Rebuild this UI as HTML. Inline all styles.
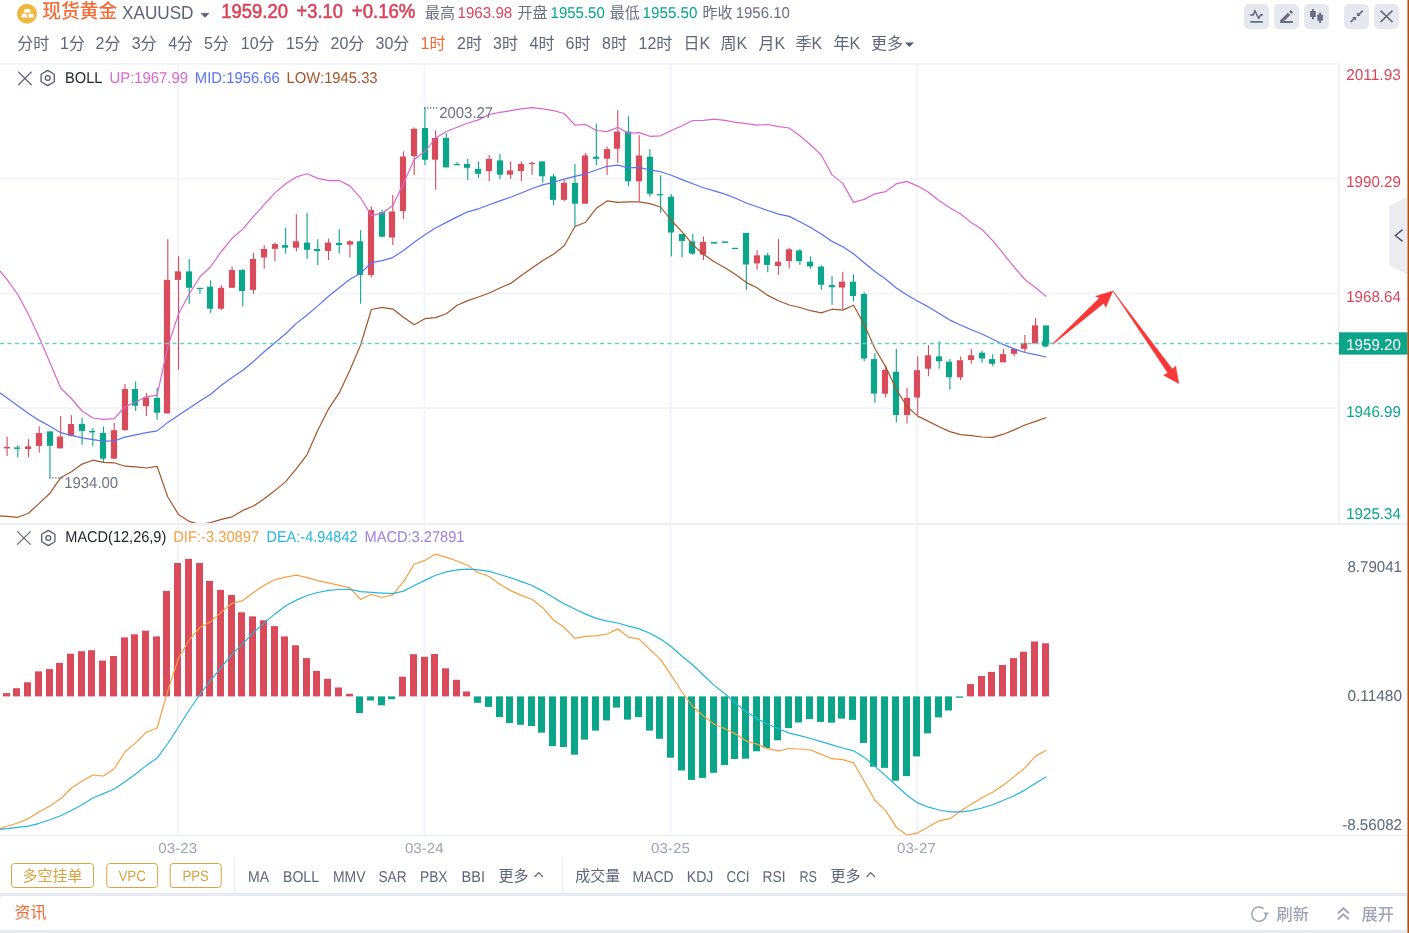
<!DOCTYPE html>
<html lang="zh-CN"><head><meta charset="utf-8"><title>现货黄金 XAUUSD</title>
<style>
html,body{margin:0;padding:0;background:#fff;}
body{width:1409px;height:933px;overflow:hidden;position:relative;font-family:"Liberation Sans", "Noto Sans CJK SC", sans-serif;}
svg{position:absolute;left:0;top:0;display:block;}
svg text{font-family:"Liberation Sans", "Noto Sans CJK SC", sans-serif;}
svg text.gp{text-rendering:geometricPrecision;}
</style></head><body>
<svg width="1409" height="933" viewBox="0 0 1409 933">
<rect x="0" y="0" width="1409" height="933" fill="#ffffff"/>
<rect x="0" y="893" width="1409" height="40" fill="#e6e9f1"/>
<path d="M0 899 Q0 896 3 896 L1404 896 Q1407 896 1407 899 L1407 930 L0 930 Z" fill="#ffffff"/>
<rect x="0" y="63.00" width="1339" height="1.8" fill="#f3f4f9"/>
<rect x="0" y="177.85" width="1339" height="1.8" fill="#f3f4f9"/>
<rect x="0" y="292.55" width="1339" height="1.8" fill="#f3f4f9"/>
<rect x="0" y="407.25" width="1339" height="1.8" fill="#f3f4f9"/>
<rect x="177.15" y="64" width="1.8" height="771" fill="#f3f4f9"/>
<rect x="423.45" y="64" width="1.8" height="771" fill="#f3f4f9"/>
<rect x="669.75" y="64" width="1.8" height="771" fill="#f3f4f9"/>
<rect x="916.05" y="64" width="1.8" height="771" fill="#f3f4f9"/>
<rect x="1338" y="63" width="1.8" height="461" fill="#f0f1f7"/>
<rect x="0" y="523" width="1407.6" height="2" fill="#eef0f6"/>
<rect x="0" y="834.6" width="1407.6" height="1.4" fill="#eef0f6"/>
<clipPath id="cm"><rect x="0" y="65" width="1338" height="458"/></clipPath>
<g clip-path="url(#cm)">
<rect x="6.55" y="436.6" width="1.1" height="19.3" fill="#d94a5b"/>
<rect x="3.9" y="446.9" width="6.2" height="1.5" fill="#d94a5b"/>
<rect x="17.26" y="445.1" width="1.1" height="12.1" fill="#0ba58a"/>
<rect x="13.9" y="447.4" width="6.2" height="1.5" fill="#0ba58a"/>
<rect x="27.98" y="439.2" width="1.1" height="18.0" fill="#d94a5b"/>
<rect x="24.9" y="446.4" width="6.2" height="2.6" fill="#d94a5b"/>
<rect x="38.69" y="426.3" width="1.1" height="26.2" fill="#d94a5b"/>
<rect x="35.9" y="433.0" width="6.2" height="12.9" fill="#d94a5b"/>
<rect x="49.40" y="431.4" width="1.1" height="46.3" fill="#0ba58a"/>
<rect x="46.9" y="431.4" width="6.2" height="14.4" fill="#0ba58a"/>
<rect x="60.12" y="416.0" width="1.1" height="32.4" fill="#d94a5b"/>
<rect x="56.9" y="436.6" width="6.2" height="11.8" fill="#d94a5b"/>
<rect x="70.83" y="415.2" width="1.1" height="21.3" fill="#d94a5b"/>
<rect x="67.9" y="424.0" width="6.2" height="11.8" fill="#d94a5b"/>
<rect x="81.54" y="417.8" width="1.1" height="27.0" fill="#0ba58a"/>
<rect x="78.9" y="424.0" width="6.2" height="6.9" fill="#0ba58a"/>
<rect x="92.26" y="428.1" width="1.1" height="18.0" fill="#0ba58a"/>
<rect x="88.9" y="430.9" width="6.2" height="1.5" fill="#0ba58a"/>
<rect x="102.97" y="426.8" width="1.1" height="35.0" fill="#0ba58a"/>
<rect x="99.9" y="433.0" width="6.2" height="25.7" fill="#0ba58a"/>
<rect x="113.68" y="423.0" width="1.1" height="35.7" fill="#d94a5b"/>
<rect x="110.9" y="430.2" width="6.2" height="28.5" fill="#d94a5b"/>
<rect x="124.40" y="384.1" width="1.1" height="46.8" fill="#d94a5b"/>
<rect x="121.9" y="389.0" width="6.2" height="41.1" fill="#d94a5b"/>
<rect x="135.11" y="381.3" width="1.1" height="29.6" fill="#0ba58a"/>
<rect x="131.9" y="389.0" width="6.2" height="16.7" fill="#0ba58a"/>
<rect x="145.83" y="392.9" width="1.1" height="23.1" fill="#d94a5b"/>
<rect x="142.9" y="397.5" width="6.2" height="8.7" fill="#d94a5b"/>
<rect x="156.54" y="387.7" width="1.1" height="32.1" fill="#0ba58a"/>
<rect x="153.9" y="398.0" width="6.2" height="14.7" fill="#0ba58a"/>
<rect x="167.25" y="239.2" width="1.1" height="174.2" fill="#d94a5b"/>
<rect x="163.9" y="279.9" width="6.2" height="133.5" fill="#d94a5b"/>
<rect x="177.97" y="256.2" width="1.1" height="113.5" fill="#d94a5b"/>
<rect x="174.9" y="271.4" width="6.2" height="8.5" fill="#d94a5b"/>
<rect x="188.68" y="259.0" width="1.1" height="44.8" fill="#0ba58a"/>
<rect x="185.9" y="271.4" width="6.2" height="16.4" fill="#0ba58a"/>
<rect x="199.39" y="287.8" width="1.1" height="6.0" fill="#0ba58a"/>
<rect x="196.9" y="287.8" width="6.2" height="1.2" fill="#0ba58a"/>
<rect x="210.11" y="280.3" width="1.1" height="32.6" fill="#0ba58a"/>
<rect x="206.9" y="286.7" width="6.2" height="22.0" fill="#0ba58a"/>
<rect x="220.82" y="285.2" width="1.1" height="24.9" fill="#d94a5b"/>
<rect x="217.9" y="287.8" width="6.2" height="20.9" fill="#d94a5b"/>
<rect x="231.53" y="266.5" width="1.1" height="21.3" fill="#d94a5b"/>
<rect x="228.9" y="270.1" width="6.2" height="17.7" fill="#d94a5b"/>
<rect x="242.25" y="269.0" width="1.1" height="37.5" fill="#0ba58a"/>
<rect x="238.9" y="270.1" width="6.2" height="20.9" fill="#0ba58a"/>
<rect x="252.96" y="252.6" width="1.1" height="41.2" fill="#d94a5b"/>
<rect x="249.9" y="259.0" width="6.2" height="30.9" fill="#d94a5b"/>
<rect x="263.67" y="245.1" width="1.1" height="23.5" fill="#d94a5b"/>
<rect x="260.9" y="249.0" width="6.2" height="8.5" fill="#d94a5b"/>
<rect x="274.39" y="242.6" width="1.1" height="18.6" fill="#d94a5b"/>
<rect x="271.9" y="244.1" width="6.2" height="4.7" fill="#d94a5b"/>
<rect x="285.10" y="227.7" width="1.1" height="26.0" fill="#0ba58a"/>
<rect x="281.9" y="245.1" width="6.2" height="2.6" fill="#0ba58a"/>
<rect x="295.81" y="214.2" width="1.1" height="37.3" fill="#d94a5b"/>
<rect x="292.9" y="241.3" width="6.2" height="6.4" fill="#d94a5b"/>
<rect x="306.53" y="212.7" width="1.1" height="46.3" fill="#0ba58a"/>
<rect x="303.9" y="242.6" width="6.2" height="7.2" fill="#0ba58a"/>
<rect x="317.24" y="239.2" width="1.1" height="25.8" fill="#0ba58a"/>
<rect x="313.9" y="249.0" width="6.2" height="2.1" fill="#0ba58a"/>
<rect x="327.95" y="238.7" width="1.1" height="21.3" fill="#d94a5b"/>
<rect x="324.9" y="242.6" width="6.2" height="8.3" fill="#d94a5b"/>
<rect x="338.67" y="229.1" width="1.1" height="24.5" fill="#0ba58a"/>
<rect x="335.9" y="243.0" width="6.2" height="2.1" fill="#0ba58a"/>
<rect x="349.38" y="240.2" width="1.1" height="17.3" fill="#d94a5b"/>
<rect x="346.9" y="241.3" width="6.2" height="3.4" fill="#d94a5b"/>
<rect x="360.10" y="230.2" width="1.1" height="73.6" fill="#0ba58a"/>
<rect x="356.9" y="241.3" width="6.2" height="33.7" fill="#0ba58a"/>
<rect x="370.81" y="206.3" width="1.1" height="71.2" fill="#d94a5b"/>
<rect x="367.9" y="210.0" width="6.2" height="65.0" fill="#d94a5b"/>
<rect x="381.52" y="209.4" width="1.1" height="28.1" fill="#0ba58a"/>
<rect x="378.9" y="212.2" width="6.2" height="24.5" fill="#0ba58a"/>
<rect x="392.24" y="195.1" width="1.1" height="49.9" fill="#d94a5b"/>
<rect x="388.9" y="211.5" width="6.2" height="26.0" fill="#d94a5b"/>
<rect x="402.95" y="151.4" width="1.1" height="67.6" fill="#d94a5b"/>
<rect x="399.9" y="156.5" width="6.2" height="54.6" fill="#d94a5b"/>
<rect x="413.66" y="127.3" width="1.1" height="48.0" fill="#d94a5b"/>
<rect x="410.9" y="128.8" width="6.2" height="27.3" fill="#d94a5b"/>
<rect x="424.38" y="107.5" width="1.1" height="57.6" fill="#0ba58a"/>
<rect x="421.9" y="128.0" width="6.2" height="31.8" fill="#0ba58a"/>
<rect x="435.09" y="130.1" width="1.1" height="59.7" fill="#d94a5b"/>
<rect x="431.9" y="138.0" width="6.2" height="21.7" fill="#d94a5b"/>
<rect x="445.80" y="133.3" width="1.1" height="34.1" fill="#0ba58a"/>
<rect x="442.9" y="138.0" width="6.2" height="29.4" fill="#0ba58a"/>
<rect x="456.52" y="161.9" width="1.1" height="3.2" fill="#0ba58a"/>
<rect x="453.9" y="164.0" width="6.2" height="1.2" fill="#0ba58a"/>
<rect x="467.23" y="158.9" width="1.1" height="21.1" fill="#0ba58a"/>
<rect x="463.9" y="164.0" width="6.2" height="3.8" fill="#0ba58a"/>
<rect x="477.94" y="161.4" width="1.1" height="16.4" fill="#0ba58a"/>
<rect x="474.9" y="168.9" width="6.2" height="4.9" fill="#0ba58a"/>
<rect x="488.66" y="155.0" width="1.1" height="26.2" fill="#d94a5b"/>
<rect x="485.9" y="158.9" width="6.2" height="12.2" fill="#d94a5b"/>
<rect x="499.37" y="154.0" width="1.1" height="24.9" fill="#0ba58a"/>
<rect x="496.9" y="160.4" width="6.2" height="14.3" fill="#0ba58a"/>
<rect x="510.08" y="161.4" width="1.1" height="17.5" fill="#d94a5b"/>
<rect x="506.9" y="170.4" width="6.2" height="4.3" fill="#d94a5b"/>
<rect x="520.80" y="161.4" width="1.1" height="19.8" fill="#d94a5b"/>
<rect x="517.9" y="164.0" width="6.2" height="7.0" fill="#d94a5b"/>
<rect x="531.51" y="161.4" width="1.1" height="13.4" fill="#d94a5b"/>
<rect x="528.9" y="162.9" width="6.2" height="1.2" fill="#d94a5b"/>
<rect x="542.23" y="161.4" width="1.1" height="21.3" fill="#0ba58a"/>
<rect x="538.9" y="161.4" width="6.2" height="14.9" fill="#0ba58a"/>
<rect x="552.94" y="173.8" width="1.1" height="31.3" fill="#0ba58a"/>
<rect x="549.9" y="176.4" width="6.2" height="23.5" fill="#0ba58a"/>
<rect x="563.65" y="180.0" width="1.1" height="21.3" fill="#d94a5b"/>
<rect x="560.9" y="182.8" width="6.2" height="17.1" fill="#d94a5b"/>
<rect x="574.37" y="164.0" width="1.1" height="62.5" fill="#0ba58a"/>
<rect x="571.9" y="182.8" width="6.2" height="20.9" fill="#0ba58a"/>
<rect x="585.08" y="152.9" width="1.1" height="50.7" fill="#d94a5b"/>
<rect x="581.9" y="155.5" width="6.2" height="48.2" fill="#d94a5b"/>
<rect x="595.79" y="123.7" width="1.1" height="41.4" fill="#0ba58a"/>
<rect x="592.9" y="156.7" width="6.2" height="2.1" fill="#0ba58a"/>
<rect x="606.51" y="146.5" width="1.1" height="28.4" fill="#d94a5b"/>
<rect x="603.9" y="149.1" width="6.2" height="9.6" fill="#d94a5b"/>
<rect x="617.22" y="109.8" width="1.1" height="53.1" fill="#d94a5b"/>
<rect x="613.9" y="131.6" width="6.2" height="17.1" fill="#d94a5b"/>
<rect x="627.93" y="116.2" width="1.1" height="70.1" fill="#0ba58a"/>
<rect x="624.9" y="131.6" width="6.2" height="49.7" fill="#0ba58a"/>
<rect x="638.65" y="135.2" width="1.1" height="66.1" fill="#d94a5b"/>
<rect x="635.9" y="155.5" width="6.2" height="25.8" fill="#d94a5b"/>
<rect x="649.36" y="149.1" width="1.1" height="47.5" fill="#0ba58a"/>
<rect x="646.9" y="156.7" width="6.2" height="37.1" fill="#0ba58a"/>
<rect x="660.07" y="175.3" width="1.1" height="37.3" fill="#0ba58a"/>
<rect x="656.9" y="194.1" width="6.2" height="1.2" fill="#0ba58a"/>
<rect x="670.79" y="194.1" width="1.1" height="62.3" fill="#0ba58a"/>
<rect x="667.9" y="196.7" width="6.2" height="35.8" fill="#0ba58a"/>
<rect x="681.50" y="234.0" width="1.1" height="23.5" fill="#0ba58a"/>
<rect x="678.9" y="234.0" width="6.2" height="7.0" fill="#0ba58a"/>
<rect x="692.21" y="234.0" width="1.1" height="20.9" fill="#0ba58a"/>
<rect x="688.9" y="241.4" width="6.2" height="12.2" fill="#0ba58a"/>
<rect x="702.93" y="236.5" width="1.1" height="23.5" fill="#d94a5b"/>
<rect x="699.9" y="241.9" width="6.2" height="12.8" fill="#d94a5b"/>
<rect x="710.9" y="241.9" width="6.2" height="1.7" fill="#0ba58a"/>
<rect x="721.9" y="241.4" width="6.2" height="1.5" fill="#0ba58a"/>
<rect x="731.9" y="247.8" width="6.2" height="1.2" fill="#0ba58a"/>
<rect x="745.78" y="232.9" width="1.1" height="56.9" fill="#0ba58a"/>
<rect x="742.9" y="232.9" width="6.2" height="31.6" fill="#0ba58a"/>
<rect x="756.50" y="250.4" width="1.1" height="19.4" fill="#d94a5b"/>
<rect x="753.9" y="255.3" width="6.2" height="8.1" fill="#d94a5b"/>
<rect x="767.21" y="252.7" width="1.1" height="19.6" fill="#0ba58a"/>
<rect x="763.9" y="255.3" width="6.2" height="9.6" fill="#0ba58a"/>
<rect x="777.92" y="238.9" width="1.1" height="36.0" fill="#d94a5b"/>
<rect x="774.9" y="261.7" width="6.2" height="4.3" fill="#d94a5b"/>
<rect x="788.64" y="247.8" width="1.1" height="20.7" fill="#d94a5b"/>
<rect x="785.9" y="249.3" width="6.2" height="11.7" fill="#d94a5b"/>
<rect x="799.35" y="248.9" width="1.1" height="16.0" fill="#0ba58a"/>
<rect x="795.9" y="250.4" width="6.2" height="10.7" fill="#0ba58a"/>
<rect x="810.06" y="256.4" width="1.1" height="12.4" fill="#0ba58a"/>
<rect x="806.9" y="261.7" width="6.2" height="4.7" fill="#0ba58a"/>
<rect x="820.78" y="265.3" width="1.1" height="24.5" fill="#0ba58a"/>
<rect x="817.9" y="266.6" width="6.2" height="18.1" fill="#0ba58a"/>
<rect x="831.49" y="276.2" width="1.1" height="28.8" fill="#0ba58a"/>
<rect x="828.9" y="285.1" width="6.2" height="2.1" fill="#0ba58a"/>
<rect x="842.20" y="271.7" width="1.1" height="37.7" fill="#d94a5b"/>
<rect x="838.9" y="281.7" width="6.2" height="5.8" fill="#d94a5b"/>
<rect x="852.92" y="274.3" width="1.1" height="27.1" fill="#0ba58a"/>
<rect x="849.9" y="281.7" width="6.2" height="14.3" fill="#0ba58a"/>
<rect x="863.63" y="292.4" width="1.1" height="68.9" fill="#0ba58a"/>
<rect x="860.9" y="293.9" width="6.2" height="64.6" fill="#0ba58a"/>
<rect x="874.34" y="353.2" width="1.1" height="49.5" fill="#0ba58a"/>
<rect x="870.9" y="359.1" width="6.2" height="34.5" fill="#0ba58a"/>
<rect x="885.06" y="365.3" width="1.1" height="32.2" fill="#d94a5b"/>
<rect x="881.9" y="369.8" width="6.2" height="23.9" fill="#d94a5b"/>
<rect x="895.77" y="348.9" width="1.1" height="73.6" fill="#0ba58a"/>
<rect x="892.9" y="371.7" width="6.2" height="43.3" fill="#0ba58a"/>
<rect x="906.48" y="387.7" width="1.1" height="35.8" fill="#d94a5b"/>
<rect x="903.9" y="397.9" width="6.2" height="17.1" fill="#d94a5b"/>
<rect x="917.20" y="356.4" width="1.1" height="58.6" fill="#d94a5b"/>
<rect x="913.9" y="370.2" width="6.2" height="27.3" fill="#d94a5b"/>
<rect x="927.91" y="345.1" width="1.1" height="31.1" fill="#d94a5b"/>
<rect x="924.9" y="355.3" width="6.2" height="13.4" fill="#d94a5b"/>
<rect x="938.62" y="341.4" width="1.1" height="27.3" fill="#0ba58a"/>
<rect x="935.9" y="356.4" width="6.2" height="4.9" fill="#0ba58a"/>
<rect x="949.34" y="359.1" width="1.1" height="30.7" fill="#0ba58a"/>
<rect x="945.9" y="361.7" width="6.2" height="15.6" fill="#0ba58a"/>
<rect x="960.05" y="356.4" width="1.1" height="23.9" fill="#d94a5b"/>
<rect x="956.9" y="360.2" width="6.2" height="17.1" fill="#d94a5b"/>
<rect x="970.77" y="348.9" width="1.1" height="14.9" fill="#d94a5b"/>
<rect x="967.9" y="355.3" width="6.2" height="4.7" fill="#d94a5b"/>
<rect x="981.48" y="351.0" width="1.1" height="11.7" fill="#0ba58a"/>
<rect x="978.9" y="352.7" width="6.2" height="5.8" fill="#0ba58a"/>
<rect x="992.19" y="354.2" width="1.1" height="12.2" fill="#0ba58a"/>
<rect x="988.9" y="359.1" width="6.2" height="4.7" fill="#0ba58a"/>
<rect x="1002.91" y="348.9" width="1.1" height="13.4" fill="#d94a5b"/>
<rect x="999.9" y="354.2" width="6.2" height="8.1" fill="#d94a5b"/>
<rect x="1013.62" y="348.9" width="1.1" height="7.5" fill="#d94a5b"/>
<rect x="1010.9" y="348.9" width="6.2" height="4.9" fill="#d94a5b"/>
<rect x="1024.33" y="335.0" width="1.1" height="17.1" fill="#d94a5b"/>
<rect x="1020.9" y="343.1" width="6.2" height="5.8" fill="#d94a5b"/>
<rect x="1035.05" y="318.0" width="1.1" height="25.6" fill="#d94a5b"/>
<rect x="1031.9" y="325.4" width="6.2" height="18.1" fill="#d94a5b"/>
<rect x="1042.9" y="325.4" width="6.2" height="18.1" fill="#0ba58a"/>
<polyline points="0,271.0 7.1,279.6 17.8,294.5 28.5,314.5 39.2,337.5 50.0,362.7 60.7,388.0 71.4,398.5 82.1,411.0 92.8,418.0 103.5,419.4 114.2,418.6 124.9,407.0 135.7,402.0 146.4,396.7 157.1,395.4 167.8,346.6 178.5,314.0 189.2,294.0 199.9,277.0 210.7,266.5 221.4,251.5 232.1,238.3 242.8,229.1 253.5,216.4 264.2,204.6 274.9,192.9 285.7,183.7 296.4,176.9 307.1,173.7 317.8,178.4 328.5,180.7 339.2,180.5 349.9,185.9 360.6,197.8 371.4,215.7 382.1,213.2 392.8,205.5 403.5,183.5 414.2,159.6 424.9,151.5 435.6,138.0 446.4,131.5 457.1,127.3 467.8,123.0 478.5,119.9 489.2,114.5 499.9,112.4 510.6,110.7 521.3,108.8 532.1,107.7 542.8,108.8 553.5,110.7 564.2,113.5 574.9,125.2 585.6,124.5 596.3,130.5 607.1,131.6 617.8,127.3 628.5,133.3 639.2,132.6 649.9,136.3 660.6,135.8 671.3,130.5 682.1,125.8 692.8,120.5 703.5,120.3 714.2,119.2 724.9,120.3 735.6,122.4 746.3,123.7 757.0,125.2 767.8,124.5 778.5,126.7 789.2,128.0 799.9,135.8 810.6,145.0 821.3,155.0 832.0,174.9 842.8,183.4 853.5,202.4 864.2,199.4 874.9,193.8 885.6,191.7 896.3,183.8 907.0,181.4 917.7,186.1 928.5,192.2 939.2,200.8 949.9,207.7 960.6,214.0 971.3,222.6 982.0,229.4 992.7,240.6 1003.5,253.9 1014.2,267.1 1024.9,279.5 1035.6,287.7 1046.3,296.6" fill="none" stroke="#db66cd" stroke-width="1.2" stroke-linejoin="round"/>
<polyline points="0,392.9 7.1,398.0 17.8,405.7 28.5,413.4 39.2,420.4 50.0,426.3 60.7,432.7 71.4,435.3 82.1,437.9 92.8,439.7 103.5,441.2 114.2,441.0 124.9,437.1 135.7,434.8 146.4,432.7 157.1,430.9 167.8,422.4 178.5,415.2 189.2,408.3 199.9,401.1 210.7,394.2 221.4,385.2 232.1,377.4 242.8,370.2 253.5,361.5 264.2,351.7 274.9,342.7 285.7,333.7 296.4,323.4 307.1,315.0 317.8,305.9 328.5,296.3 339.2,287.8 349.9,279.3 360.6,273.3 371.4,262.6 382.1,260.7 392.8,257.6 403.5,250.4 414.2,242.2 424.9,234.8 435.6,228.0 446.4,222.4 457.1,216.9 467.8,211.8 478.5,208.8 489.2,204.7 499.9,200.9 510.6,197.2 521.3,193.0 532.1,188.5 542.8,184.9 553.5,182.3 564.2,179.1 574.9,176.4 585.6,173.8 596.3,170.0 607.1,166.3 617.8,165.1 628.5,167.8 639.2,167.4 649.9,170.0 660.6,171.7 671.3,175.3 682.1,179.6 692.8,183.8 703.5,187.7 714.2,190.9 724.9,194.1 735.6,198.3 746.3,203.0 757.0,206.8 767.8,210.5 778.5,214.1 789.2,216.4 799.9,221.8 810.6,227.5 821.3,233.9 832.0,241.4 842.8,246.7 853.5,253.8 864.2,262.7 874.9,271.5 885.6,279.0 896.3,288.0 907.0,295.0 917.7,301.2 928.5,306.9 939.2,313.4 949.9,320.1 960.6,325.0 971.3,329.7 982.0,334.0 992.7,339.3 1003.5,344.6 1014.2,348.9 1024.9,352.5 1035.6,354.6 1046.3,357.0" fill="none" stroke="#5873f5" stroke-width="1.2" stroke-linejoin="round"/>
<polyline points="0,515.8 7.1,516.3 17.8,517.3 28.5,513.2 39.2,503.4 50.0,493.2 60.7,477.7 71.4,471.8 82.1,464.1 92.8,460.2 103.5,462.3 114.2,462.8 124.9,466.2 135.7,466.9 146.4,468.0 157.1,466.4 167.8,497.0 178.5,514.5 189.2,521.4 199.9,524.5 210.7,522.5 221.4,519.4 232.1,516.8 242.8,510.4 253.5,506.0 264.2,498.8 274.9,490.6 285.7,481.6 296.4,468.7 307.1,454.6 317.8,430.2 328.5,409.1 339.2,392.9 349.9,370.2 360.6,345.0 371.4,309.5 382.1,307.4 392.8,309.1 403.5,317.2 414.2,324.7 424.9,318.7 435.6,317.6 446.4,313.8 457.1,305.3 467.8,300.6 478.5,297.0 489.2,293.0 499.9,288.0 510.6,283.4 521.3,275.5 532.1,268.0 542.8,260.6 553.5,254.2 564.2,245.7 574.9,226.5 585.6,222.2 596.3,208.3 607.1,200.9 617.8,202.4 628.5,201.9 639.2,201.9 649.9,203.6 660.6,207.0 671.3,220.5 682.1,231.8 692.8,244.6 703.5,254.2 714.2,261.7 724.9,267.7 735.6,274.5 746.3,282.6 757.0,287.7 767.8,295.4 778.5,300.7 789.2,305.0 799.9,307.5 810.6,310.7 821.3,312.9 832.0,309.2 842.8,310.1 853.5,305.3 864.2,324.5 874.9,348.5 885.6,366.6 896.3,389.4 907.0,406.5 917.7,416.1 928.5,421.4 939.2,426.7 949.9,431.6 960.6,434.6 971.3,435.7 982.0,437.0 992.7,437.4 1003.5,434.2 1014.2,429.9 1024.9,425.0 1035.6,421.4 1046.3,417.5" fill="none" stroke="#a2572b" stroke-width="1.2" stroke-linejoin="round"/>
</g>
<line x1="0" y1="343.5" x2="1339" y2="343.5" stroke="#6ccdba" stroke-width="1.3" stroke-dasharray="4 3.5"/>
<circle cx="1045.3" cy="343.4" r="4.3" fill="#0ba58a" opacity="0.35"/>
<circle cx="1045.3" cy="343.4" r="3.3" fill="#0ba58a"/>
<polygon points="1053,343.3 1099.4,297.9 1095.5,296.2 1112.9,290.9 1105.9,307.3 1103.6,303.4 1053.6,343.8" fill="#f83838" stroke="#f83838" stroke-width="0.4" stroke-linejoin="round"/>
<polygon points="1112.9,290.9 1172.4,369.2 1175.6,366.1 1178.8,383.5 1163.7,375.2 1167.9,373.1" fill="#f83838" stroke="#f83838" stroke-width="0.6" stroke-linejoin="round"/>
<line x1="424" y1="107.8" x2="438" y2="107.8" stroke="#555b6e" stroke-width="1.3" stroke-dasharray="1.3 1.7"/>
<text x="439.2" y="118.0" font-size="15.7" fill="#6d7387" textLength="54" lengthAdjust="spacingAndGlyphs" class="gp">2003.27</text>
<line x1="49.2" y1="477.8" x2="63" y2="477.8" stroke="#555b6e" stroke-width="1.3" stroke-dasharray="1.3 1.7"/>
<text x="64.2" y="488.0" font-size="15.7" fill="#6d7387" textLength="54" lengthAdjust="spacingAndGlyphs" class="gp">1934.00</text>
<rect x="3" y="693.1" width="7" height="3.3" fill="#d94a5b"/>
<rect x="13" y="688.2" width="7" height="8.2" fill="#d94a5b"/>
<rect x="24" y="682.3" width="7" height="14.1" fill="#d94a5b"/>
<rect x="35" y="671.4" width="7" height="25.0" fill="#d94a5b"/>
<rect x="46" y="669.1" width="7" height="27.3" fill="#d94a5b"/>
<rect x="56" y="662.9" width="7" height="33.5" fill="#d94a5b"/>
<rect x="67" y="653.7" width="7" height="42.7" fill="#d94a5b"/>
<rect x="78" y="651.2" width="7" height="45.2" fill="#d94a5b"/>
<rect x="88" y="650.2" width="7" height="46.2" fill="#d94a5b"/>
<rect x="99" y="660.6" width="7" height="35.8" fill="#d94a5b"/>
<rect x="110" y="656.0" width="7" height="40.4" fill="#d94a5b"/>
<rect x="121" y="637.4" width="7" height="59.0" fill="#d94a5b"/>
<rect x="131" y="634.3" width="7" height="62.1" fill="#d94a5b"/>
<rect x="142" y="630.7" width="7" height="65.7" fill="#d94a5b"/>
<rect x="153" y="636.4" width="7" height="60.0" fill="#d94a5b"/>
<rect x="163" y="590.9" width="7" height="105.5" fill="#d94a5b"/>
<rect x="174" y="563.0" width="7" height="133.4" fill="#d94a5b"/>
<rect x="185" y="558.9" width="7" height="137.5" fill="#d94a5b"/>
<rect x="196" y="563.0" width="7" height="133.4" fill="#d94a5b"/>
<rect x="206" y="580.9" width="7" height="115.5" fill="#d94a5b"/>
<rect x="217" y="589.9" width="7" height="106.5" fill="#d94a5b"/>
<rect x="228" y="595.0" width="7" height="101.4" fill="#d94a5b"/>
<rect x="238" y="612.3" width="7" height="84.1" fill="#d94a5b"/>
<rect x="249" y="616.4" width="7" height="80.0" fill="#d94a5b"/>
<rect x="260" y="620.3" width="7" height="76.1" fill="#d94a5b"/>
<rect x="271" y="626.1" width="7" height="70.3" fill="#d94a5b"/>
<rect x="281" y="636.4" width="7" height="60.0" fill="#d94a5b"/>
<rect x="292" y="645.3" width="7" height="51.1" fill="#d94a5b"/>
<rect x="303" y="658.1" width="7" height="38.3" fill="#d94a5b"/>
<rect x="313" y="670.9" width="7" height="25.5" fill="#d94a5b"/>
<rect x="324" y="678.8" width="7" height="17.6" fill="#d94a5b"/>
<rect x="335" y="687.5" width="7" height="8.9" fill="#d94a5b"/>
<rect x="346" y="693.8" width="7" height="2.6" fill="#d94a5b"/>
<rect x="356" y="696.4" width="7" height="16.6" fill="#0ba58a"/>
<rect x="367" y="696.4" width="7" height="4.1" fill="#0ba58a"/>
<rect x="378" y="696.4" width="7" height="8.9" fill="#0ba58a"/>
<rect x="388" y="696.4" width="7" height="2.8" fill="#0ba58a"/>
<rect x="399" y="676.7" width="7" height="19.7" fill="#d94a5b"/>
<rect x="410" y="654.2" width="7" height="42.2" fill="#d94a5b"/>
<rect x="421" y="656.8" width="7" height="39.6" fill="#d94a5b"/>
<rect x="431" y="654.0" width="7" height="42.4" fill="#d94a5b"/>
<rect x="442" y="668.3" width="7" height="28.1" fill="#d94a5b"/>
<rect x="453" y="679.8" width="7" height="16.6" fill="#d94a5b"/>
<rect x="463" y="691.5" width="7" height="4.9" fill="#d94a5b"/>
<rect x="474" y="696.4" width="7" height="6.4" fill="#0ba58a"/>
<rect x="485" y="696.4" width="7" height="10.5" fill="#0ba58a"/>
<rect x="496" y="696.4" width="7" height="20.7" fill="#0ba58a"/>
<rect x="506" y="696.4" width="7" height="26.6" fill="#0ba58a"/>
<rect x="517" y="696.4" width="7" height="28.4" fill="#0ba58a"/>
<rect x="528" y="696.4" width="7" height="29.6" fill="#0ba58a"/>
<rect x="538" y="696.4" width="7" height="36.3" fill="#0ba58a"/>
<rect x="549" y="696.4" width="7" height="49.8" fill="#0ba58a"/>
<rect x="560" y="696.4" width="7" height="50.6" fill="#0ba58a"/>
<rect x="571" y="696.4" width="7" height="58.3" fill="#0ba58a"/>
<rect x="581" y="696.4" width="7" height="43.2" fill="#0ba58a"/>
<rect x="592" y="696.4" width="7" height="34.2" fill="#0ba58a"/>
<rect x="603" y="696.4" width="7" height="24.0" fill="#0ba58a"/>
<rect x="613" y="696.4" width="7" height="11.2" fill="#0ba58a"/>
<rect x="624" y="696.4" width="7" height="23.2" fill="#0ba58a"/>
<rect x="635" y="696.4" width="7" height="20.7" fill="#0ba58a"/>
<rect x="646" y="696.4" width="7" height="34.2" fill="#0ba58a"/>
<rect x="656" y="696.4" width="7" height="42.4" fill="#0ba58a"/>
<rect x="667" y="696.4" width="7" height="61.3" fill="#0ba58a"/>
<rect x="678" y="696.4" width="7" height="74.1" fill="#0ba58a"/>
<rect x="688" y="696.4" width="7" height="83.5" fill="#0ba58a"/>
<rect x="699" y="696.4" width="7" height="81.5" fill="#0ba58a"/>
<rect x="710" y="696.4" width="7" height="76.4" fill="#0ba58a"/>
<rect x="721" y="696.4" width="7" height="68.7" fill="#0ba58a"/>
<rect x="731" y="696.4" width="7" height="62.6" fill="#0ba58a"/>
<rect x="742" y="696.4" width="7" height="62.3" fill="#0ba58a"/>
<rect x="753" y="696.4" width="7" height="54.9" fill="#0ba58a"/>
<rect x="763" y="696.4" width="7" height="51.6" fill="#0ba58a"/>
<rect x="774" y="696.4" width="7" height="43.9" fill="#0ba58a"/>
<rect x="785" y="696.4" width="7" height="31.7" fill="#0ba58a"/>
<rect x="795" y="696.4" width="7" height="26.1" fill="#0ba58a"/>
<rect x="806" y="696.4" width="7" height="22.7" fill="#0ba58a"/>
<rect x="817" y="696.4" width="7" height="25.5" fill="#0ba58a"/>
<rect x="828" y="696.4" width="7" height="26.3" fill="#0ba58a"/>
<rect x="838" y="696.4" width="7" height="22.2" fill="#0ba58a"/>
<rect x="849" y="696.4" width="7" height="23.5" fill="#0ba58a"/>
<rect x="860" y="696.4" width="7" height="46.5" fill="#0ba58a"/>
<rect x="870" y="696.4" width="7" height="70.3" fill="#0ba58a"/>
<rect x="881" y="696.4" width="7" height="71.5" fill="#0ba58a"/>
<rect x="892" y="696.4" width="7" height="84.3" fill="#0ba58a"/>
<rect x="903" y="696.4" width="7" height="79.7" fill="#0ba58a"/>
<rect x="913" y="696.4" width="7" height="60.0" fill="#0ba58a"/>
<rect x="924" y="696.4" width="7" height="37.0" fill="#0ba58a"/>
<rect x="935" y="696.4" width="7" height="21.0" fill="#0ba58a"/>
<rect x="945" y="696.4" width="7" height="14.1" fill="#0ba58a"/>
<rect x="956" y="696.4" width="7" height="1.3" fill="#0ba58a"/>
<rect x="967" y="684.1" width="7" height="12.3" fill="#d94a5b"/>
<rect x="978" y="676.0" width="7" height="20.4" fill="#d94a5b"/>
<rect x="988" y="671.9" width="7" height="24.5" fill="#d94a5b"/>
<rect x="999" y="665.0" width="7" height="31.4" fill="#d94a5b"/>
<rect x="1010" y="658.1" width="7" height="38.3" fill="#d94a5b"/>
<rect x="1020" y="651.7" width="7" height="44.7" fill="#d94a5b"/>
<rect x="1031" y="641.5" width="7" height="54.9" fill="#d94a5b"/>
<rect x="1042" y="643.3" width="7" height="53.1" fill="#d94a5b"/>
<clipPath id="cd"><rect x="0" y="525" width="1338" height="310.5"/></clipPath>
<g clip-path="url(#cd)">
<polyline points="0,828.7 7.1,826.2 17.8,823.0 28.5,818.6 39.2,811.7 50.0,806.0 60.7,798.6 71.4,788.0 82.1,781.3 92.8,775.0 103.5,776.0 114.2,768.7 124.9,752.0 135.7,742.9 146.4,732.2 157.1,728.0 167.8,690.9 178.5,658.1 189.2,640.2 199.9,627.5 210.7,621.6 221.4,612.1 232.1,603.2 242.8,600.6 253.5,592.5 264.2,585.3 274.9,579.7 285.7,577.1 296.4,575.1 307.1,577.7 317.8,580.7 328.5,582.8 339.2,585.4 349.9,587.8 360.6,599.5 371.4,594.2 382.1,597.5 392.8,594.9 403.5,581.6 414.2,564.3 424.9,560.4 435.6,554.1 446.4,557.4 457.1,561.0 467.8,565.5 478.5,572.7 489.2,576.5 499.9,584.2 510.6,590.6 521.3,595.4 532.1,599.5 542.8,607.7 553.5,620.0 564.2,627.4 574.9,638.4 585.6,636.3 596.3,635.8 607.1,634.0 617.8,628.9 628.5,637.1 639.2,639.1 649.9,649.4 660.6,659.6 671.3,675.4 682.1,692.0 692.8,706.5 703.5,716.0 714.2,724.2 724.9,728.8 735.6,733.9 746.3,741.1 757.0,744.1 767.8,748.7 778.5,750.8 789.2,748.5 799.9,749.0 810.6,750.0 821.3,754.4 832.0,758.7 842.8,759.7 853.5,762.8 864.2,781.2 874.9,800.3 885.6,810.6 896.3,827.2 907.0,835.3 917.7,832.8 928.5,826.7 939.2,820.8 949.9,818.7 960.6,811.1 971.3,804.2 982.0,797.8 992.7,792.2 1003.5,785.0 1014.2,776.6 1024.9,767.9 1035.6,756.1 1046.3,750.3" fill="none" stroke="#f7a043" stroke-width="1.2" stroke-linejoin="round"/>
<polyline points="0,829.3 7.1,828.7 17.8,827.4 28.5,826.2 39.2,823.3 50.0,819.7 60.7,815.7 71.4,810.5 82.1,804.7 92.8,798.0 103.5,793.6 114.2,789.0 124.9,781.7 135.7,774.0 146.4,765.4 157.1,758.1 167.8,743.5 178.5,727.0 189.2,710.0 199.9,694.5 210.7,680.4 221.4,667.1 232.1,654.3 242.8,643.6 253.5,632.6 264.2,623.1 274.9,613.9 285.7,605.8 296.4,600.1 307.1,595.5 317.8,592.5 328.5,590.4 339.2,589.5 349.9,589.3 360.6,591.6 371.4,592.4 382.1,593.1 392.8,593.7 403.5,591.1 414.2,585.5 424.9,580.4 435.6,575.3 446.4,571.9 457.1,569.9 467.8,569.1 478.5,569.9 489.2,571.4 499.9,574.5 510.6,577.8 521.3,581.6 532.1,585.5 542.8,591.1 553.5,597.5 564.2,603.9 574.9,609.0 585.6,614.1 596.3,618.4 607.1,621.2 617.8,623.0 628.5,626.1 639.2,628.9 649.9,633.3 660.6,639.1 671.3,646.8 682.1,656.3 692.8,665.0 703.5,675.2 714.2,685.4 724.9,693.8 735.6,703.3 746.3,711.7 757.0,718.6 767.8,724.2 778.5,728.8 789.2,733.1 799.9,735.7 810.6,738.5 821.3,741.6 832.0,744.9 842.8,748.0 853.5,750.8 864.2,757.4 874.9,766.4 885.6,775.6 896.3,785.5 907.0,795.2 917.7,802.9 928.5,807.2 939.2,810.0 949.9,811.8 960.6,811.8 971.3,810.6 982.0,808.0 992.7,804.7 1003.5,800.3 1014.2,795.7 1024.9,790.1 1035.6,783.2 1046.3,776.8" fill="none" stroke="#27b6db" stroke-width="1.2" stroke-linejoin="round"/>
</g>
<text x="1346.2" y="80.0" font-size="15.7" fill="#d9455a" textLength="54.6" lengthAdjust="spacingAndGlyphs" class="gp">2011.93</text>
<text x="1346.2" y="187.0" font-size="15.7" fill="#d9455a" textLength="54.6" lengthAdjust="spacingAndGlyphs" class="gp">1990.29</text>
<text x="1346.2" y="302.0" font-size="15.7" fill="#d9455a" textLength="54.6" lengthAdjust="spacingAndGlyphs" class="gp">1968.64</text>
<text x="1346.2" y="417.0" font-size="15.7" fill="#0ba58a" textLength="54.6" lengthAdjust="spacingAndGlyphs" class="gp">1946.99</text>
<text x="1346.2" y="519.0" font-size="15.7" fill="#0ba58a" textLength="54.6" lengthAdjust="spacingAndGlyphs" class="gp">1925.34</text>
<rect x="1339" y="332.3" width="68.6" height="22.3" fill="#0ba58a"/>
<text x="1346.2" y="350.0" font-size="15.7" fill="#ffffff" textLength="54.6" lengthAdjust="spacingAndGlyphs" class="gp">1959.20</text>
<text x="1347.4" y="572.0" font-size="15.7" fill="#5f667b" textLength="54.6" lengthAdjust="spacingAndGlyphs" class="gp">8.79041</text>
<text x="1347.4" y="701.0" font-size="15.7" fill="#5f667b" textLength="54.6" lengthAdjust="spacingAndGlyphs" class="gp">0.11480</text>
<text x="1342.2" y="830.0" font-size="15.7" fill="#5f667b" textLength="59.8" lengthAdjust="spacingAndGlyphs" class="gp">-8.56082</text>
<text x="158.3" y="853.0" font-size="14.4" fill="#9fa4b6" textLength="38.8" lengthAdjust="spacingAndGlyphs" class="gp">03-23</text>
<text x="404.9" y="853.0" font-size="14.4" fill="#9fa4b6" textLength="38.8" lengthAdjust="spacingAndGlyphs" class="gp">03-24</text>
<text x="651.1" y="853.0" font-size="14.4" fill="#9fa4b6" textLength="38.8" lengthAdjust="spacingAndGlyphs" class="gp">03-25</text>
<text x="897.1" y="853.0" font-size="14.4" fill="#9fa4b6" textLength="38.8" lengthAdjust="spacingAndGlyphs" class="gp">03-27</text>
<path d="M18.2 71.8 l13.4 13.2 M31.6 71.8 l-13.4 13.2" stroke="#646a7e" stroke-width="1.3" fill="none"/>
<polygon points="47.7,70.4 54.3,74.2 54.3,81.8 47.7,85.6 41.1,81.8 41.1,74.2" fill="none" stroke="#555b6e" stroke-width="1.3" stroke-linejoin="round"/>
<circle cx="47.7" cy="78" r="2.4" fill="none" stroke="#555b6e" stroke-width="1.3"/>
<text x="65.0" y="83.0" font-size="15.7" fill="#23262f" textLength="37.5" lengthAdjust="spacingAndGlyphs" class="gp">BOLL</text>
<text x="109.5" y="83.0" font-size="15.7" fill="#db66cd" textLength="78.5" lengthAdjust="spacingAndGlyphs" class="gp">UP:1967.99</text>
<text x="194.8" y="83.0" font-size="15.7" fill="#5873f5" textLength="85" lengthAdjust="spacingAndGlyphs" class="gp">MID:1956.66</text>
<text x="286.6" y="83.0" font-size="15.7" fill="#a2572b" textLength="91" lengthAdjust="spacingAndGlyphs" class="gp">LOW:1945.33</text>
<path d="M17.2 531.4 l13.4 13.2 M30.6 531.4 l-13.4 13.2" stroke="#646a7e" stroke-width="1.3" fill="none"/>
<polygon points="48.3,530.4 54.9,534.2 54.9,541.8 48.3,545.6 41.7,541.8 41.7,534.2" fill="none" stroke="#555b6e" stroke-width="1.3" stroke-linejoin="round"/>
<circle cx="48.3" cy="538" r="2.4" fill="none" stroke="#555b6e" stroke-width="1.3"/>
<text x="65.3" y="542.0" font-size="15.7" fill="#23262f" textLength="101" lengthAdjust="spacingAndGlyphs" class="gp">MACD(12,26,9)</text>
<text x="173.2" y="542.0" font-size="15.7" fill="#f7a043" textLength="86" lengthAdjust="spacingAndGlyphs" class="gp">DIF:-3.30897</text>
<text x="266.5" y="542.0" font-size="15.7" fill="#27b6db" textLength="91" lengthAdjust="spacingAndGlyphs" class="gp">DEA:-4.94842</text>
<text x="364.5" y="542.0" font-size="15.7" fill="#9b7fe0" textLength="100" lengthAdjust="spacingAndGlyphs" class="gp">MACD:3.27891</text>
<circle cx="27" cy="13.7" r="10" fill="#f0b840"/>
<path d="M24.6 9.2 h5.4 l0.9 3.3 h-7.2 z M22 13.8 h4.4 l0.8 3.7 h-6 z M28.6 13.8 h4.4 l0.8 3.7 h-6 z" fill="#ffffff"/>
<text x="42.2" y="18.2" font-size="18.8" fill="#f46b36" font-weight="500">现货黄金</text>
<text x="122.0" y="18.6" font-size="18" fill="#5d6478" textLength="71.5" lengthAdjust="spacingAndGlyphs">XAUUSD</text>
<polygon points="201,13.3 209,13.3 205,17.4" fill="#5d6478" stroke="#5d6478" stroke-width="0.6" stroke-linejoin="round"/>
<text x="221.3" y="18.1" font-size="19.4" fill="#d9435a" textLength="66.6" lengthAdjust="spacingAndGlyphs" stroke="#d9435a" stroke-width="0.55">1959.20</text>
<text x="296.6" y="18.1" font-size="19.4" fill="#d9435a" textLength="46.2" lengthAdjust="spacingAndGlyphs" stroke="#d9435a" stroke-width="0.55">+3.10</text>
<text x="351.8" y="18.1" font-size="19.4" fill="#d9435a" textLength="63.6" lengthAdjust="spacingAndGlyphs" stroke="#d9435a" stroke-width="0.55">+0.16%</text>
<text x="425.0" y="17.8" font-size="15" fill="#697086">最高</text>
<text x="457.5" y="18.0" font-size="15.7" fill="#d9455a" textLength="54.8" lengthAdjust="spacingAndGlyphs" class="gp">1963.98</text>
<text x="517.4" y="17.8" font-size="15" fill="#697086">开盘</text>
<text x="550.6" y="18.0" font-size="15.7" fill="#0ba58a" textLength="54.2" lengthAdjust="spacingAndGlyphs" class="gp">1955.50</text>
<text x="609.8" y="17.8" font-size="15" fill="#697086">最低</text>
<text x="642.6" y="18.0" font-size="15.7" fill="#0ba58a" textLength="54.8" lengthAdjust="spacingAndGlyphs" class="gp">1955.50</text>
<text x="702.5" y="17.8" font-size="15" fill="#697086">昨收</text>
<text x="735.7" y="18.0" font-size="15.7" fill="#697086" textLength="54.2" lengthAdjust="spacingAndGlyphs" class="gp">1956.10</text>
<text x="17.3" y="48.9" font-size="16" fill="#5f667b">分时</text>
<text x="60.0" y="48.9" font-size="16" fill="#5f667b">1分</text>
<text x="95.5" y="48.9" font-size="16" fill="#5f667b">2分</text>
<text x="131.7" y="48.9" font-size="16" fill="#5f667b">3分</text>
<text x="168.2" y="48.9" font-size="16" fill="#5f667b">4分</text>
<text x="204.0" y="48.9" font-size="16" fill="#5f667b">5分</text>
<text x="240.8" y="48.9" font-size="16" fill="#5f667b">10分</text>
<text x="286.0" y="48.9" font-size="16" fill="#5f667b">15分</text>
<text x="330.5" y="48.9" font-size="16" fill="#5f667b">20分</text>
<text x="375.5" y="48.9" font-size="16" fill="#5f667b">30分</text>
<text x="420.5" y="48.9" font-size="16" fill="#f46b36">1时</text>
<text x="457.0" y="48.9" font-size="16" fill="#5f667b">2时</text>
<text x="493.0" y="48.9" font-size="16" fill="#5f667b">3时</text>
<text x="529.5" y="48.9" font-size="16" fill="#5f667b">4时</text>
<text x="565.5" y="48.9" font-size="16" fill="#5f667b">6时</text>
<text x="602.0" y="48.9" font-size="16" fill="#5f667b">8时</text>
<text x="638.5" y="48.9" font-size="16" fill="#5f667b">12时</text>
<text x="683.5" y="48.9" font-size="16" fill="#5f667b">日K</text>
<text x="720.5" y="48.9" font-size="16" fill="#5f667b">周K</text>
<text x="758.5" y="48.9" font-size="16" fill="#5f667b">月K</text>
<text x="795.5" y="48.9" font-size="16" fill="#5f667b">季K</text>
<text x="833.5" y="48.9" font-size="16" fill="#5f667b">年K</text>
<text x="871.0" y="48.9" font-size="16" fill="#5f667b">更多</text>
<polygon points="905,42.6 914,42.6 909.5,47" fill="#555c70"/>
<rect x="1244.1" y="4.1" width="24.8" height="24.8" rx="4.4" fill="#e6e8f0"/>
<rect x="1274.1" y="4.1" width="24.8" height="24.8" rx="4.4" fill="#e6e8f0"/>
<rect x="1304.1" y="4.1" width="24.8" height="24.8" rx="4.4" fill="#e6e8f0"/>
<rect x="1344.1" y="4.1" width="24.8" height="24.8" rx="4.4" fill="#e6e8f0"/>
<rect x="1374.1" y="4.1" width="24.8" height="24.8" rx="4.4" fill="#e6e8f0"/>
<path d="M1250.3 14.9 H1253.2 L1254.9 10.6 L1258.6 18.5 L1260.6 14.9 H1262.9" fill="none" stroke="#6a6f82" stroke-width="1.6" stroke-linejoin="round"/>
<rect x="1250.3" y="21" width="12.6" height="1.8" fill="#6a6f82"/>
<path d="M1280.1 22.9 V20.5 L1287.9 12.7 L1290.3 15.1 L1284.3 21.1 H1292.9 V22.9 Z" fill="#6a6f82"/>
<path d="M1289.1 11.5 L1290.7 9.9 L1293.1 12.3 L1291.5 13.9 Z" fill="#6a6f82"/>
<rect x="1310.1" y="11" width="5.7" height="6" fill="#6a6f82"/><rect x="1312" y="9.1" width="1.9" height="10.2" fill="#6a6f82"/>
<rect x="1317.2" y="14.5" width="5.7" height="6.2" fill="#6a6f82"/><rect x="1319.1" y="12.6" width="1.9" height="10.3" fill="#6a6f82"/>
<path d="M1362.8 10.7 L1358.4 14.8 M1350.5 22.1 L1354.8 18.1" stroke="#6a6f82" stroke-width="1.7" fill="none"/>
<path d="M1356.9 12.1 V16 H1360.8 Z M1352.1 17.1 H1356.1 V20.8 Z" fill="#6a6f82"/>
<path d="M1380.5 10.7 L1392.5 22.1 M1392.5 10.7 L1380.5 22.1" stroke="#6a6f82" stroke-width="1.6" fill="none"/>
<path d="M1389.2 206.6 Q1389.2 205.8 1390 205.4 L1407 197 L1407 274.4 L1390 265.6 Q1389.2 265.2 1389.2 264.4 Z" fill="#ebecf0"/>
<path d="M1402.6 229.6 L1395.4 235.5 L1402.6 241.4" fill="none" stroke="#555b6e" stroke-width="1.6"/>
<rect x="11.5" y="863.5" width="82.0" height="24" rx="3" fill="#fff" stroke="#d9a441" stroke-width="1"/>
<text x="52.5" y="881.2" font-size="15" fill="#d9a441" text-anchor="middle">多空挂单</text>
<rect x="106.8" y="863.5" width="50.8" height="24" rx="3" fill="#fff" stroke="#d9a441" stroke-width="1"/>
<text x="132.2" y="881.0" font-size="15" fill="#d9a441" text-anchor="middle" textLength="27.5" lengthAdjust="spacingAndGlyphs" class="gp">VPC</text>
<rect x="170.2" y="863.5" width="51.0" height="24" rx="3" fill="#fff" stroke="#d9a441" stroke-width="1"/>
<text x="195.7" y="881.0" font-size="15" fill="#d9a441" text-anchor="middle" textLength="26.5" lengthAdjust="spacingAndGlyphs" class="gp">PPS</text>
<rect x="234" y="858" width="1" height="35" fill="#eceef5"/>
<rect x="562" y="858" width="1" height="35" fill="#eceef5"/>
<text x="248.0" y="882.0" font-size="15.7" fill="#5f667b" textLength="21" lengthAdjust="spacingAndGlyphs" class="gp">MA</text>
<text x="283.0" y="882.0" font-size="15.7" fill="#5f667b" textLength="36" lengthAdjust="spacingAndGlyphs" class="gp">BOLL</text>
<text x="333.0" y="882.0" font-size="15.7" fill="#5f667b" textLength="32.5" lengthAdjust="spacingAndGlyphs" class="gp">MMV</text>
<text x="378.5" y="882.0" font-size="15.7" fill="#5f667b" textLength="28" lengthAdjust="spacingAndGlyphs" class="gp">SAR</text>
<text x="420.0" y="882.0" font-size="15.7" fill="#5f667b" textLength="27.5" lengthAdjust="spacingAndGlyphs" class="gp">PBX</text>
<text x="461.5" y="882.0" font-size="15.7" fill="#5f667b" textLength="23.5" lengthAdjust="spacingAndGlyphs" class="gp">BBI</text>
<text x="498.5" y="881.4" font-size="15" fill="#5f667b">更多</text>
<text x="575.3" y="881.4" font-size="15" fill="#5f667b">成交量</text>
<text x="632.5" y="882.0" font-size="15.7" fill="#5f667b" textLength="41" lengthAdjust="spacingAndGlyphs" class="gp">MACD</text>
<text x="686.8" y="882.0" font-size="15.7" fill="#5f667b" textLength="26.6" lengthAdjust="spacingAndGlyphs" class="gp">KDJ</text>
<text x="726.5" y="882.0" font-size="15.7" fill="#5f667b" textLength="23" lengthAdjust="spacingAndGlyphs" class="gp">CCI</text>
<text x="762.5" y="882.0" font-size="15.7" fill="#5f667b" textLength="23" lengthAdjust="spacingAndGlyphs" class="gp">RSI</text>
<text x="799.5" y="882.0" font-size="15.7" fill="#5f667b" textLength="17.5" lengthAdjust="spacingAndGlyphs" class="gp">RS</text>
<text x="830.5" y="881.4" font-size="15" fill="#5f667b">更多</text>
<path d="M534.5 877 l4.2 -4.4 l4.2 4.4" fill="none" stroke="#5f667b" stroke-width="1.2"/>
<path d="M866.5 877 l4.2 -4.4 l4.2 4.4" fill="none" stroke="#5f667b" stroke-width="1.2"/>
<text x="14.4" y="917.5" font-size="16" fill="#f46b36">资讯</text>
<path d="M1263.6 908.6 A7.2 7.2 0 1 0 1266.2 914.4" fill="none" stroke="#9fa4b6" stroke-width="1.5"/>
<path d="M1263.4 912.6 h5.6 l-2.8 3.6 z" fill="#9fa4b6"/>
<text x="1276.6" y="920.0" font-size="16.2" fill="#9fa4b6" font-weight="500">刷新</text>
<path d="M1338 913.2 l5.4 -5 l5.4 5 M1338 919.2 l5.4 -5 l5.4 5" fill="none" stroke="#9fa4b6" stroke-width="1.9"/>
<text x="1361.5" y="920.0" font-size="16.2" fill="#9fa4b6" font-weight="500">展开</text>
<rect x="1407.5" y="0" width="1.5" height="933" fill="#b44b0b"/>
</svg>
</body></html>
